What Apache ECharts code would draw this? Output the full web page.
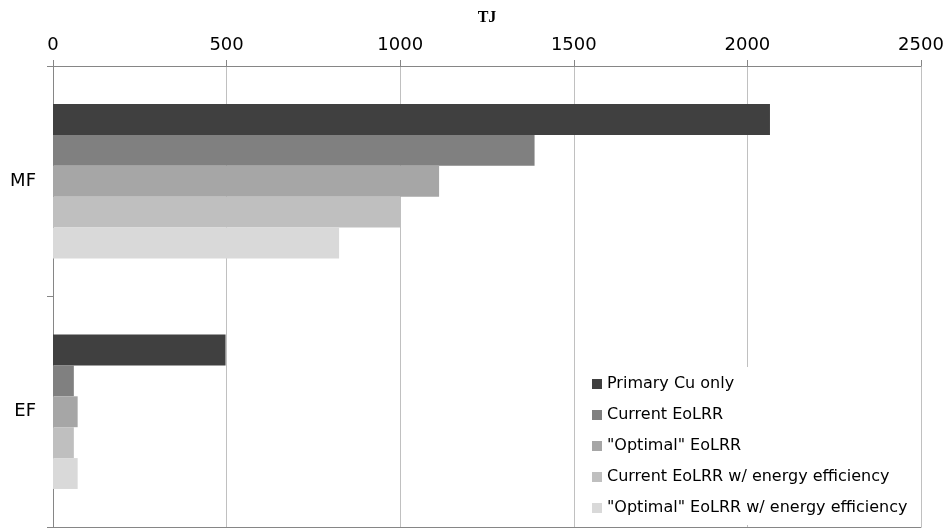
<!DOCTYPE html>
<html>
<head>
<meta charset="utf-8">
<script src="https://cdn.jsdelivr.net/npm/echarts@6/dist/echarts.min.js"></script>
<style>
html,body{margin:0;padding:0;background:#fff;}
#chart{width:947px;height:528px;}
</style>
</head>
<body>
<div id="chart"></div>
<script>
const categories = ['MF', 'EF'];
const seriesNames = ['Primary Cu only', 'Current EoLRR', '"Optimal" EoLRR', 'Current EoLRR w/ energy efficiency', '"Optimal" EoLRR w/ energy efficiency'];
const primaryCu = [2065, 497];
const currentEoLRR = [1387, 60];
const optimalEoLRR = [1112, 71];
const currentEoLRREE = [1002, 60];
const optimalEoLRREE = [824, 71];
const xTicks = [0, 500, 1000, 1500, 2000, 2500];
const seriesColors = ['#404040', '#808080', '#a6a6a6', '#bfbfbf', '#d9d9d9'];

const allValues = [primaryCu, currentEoLRR, optimalEoLRR, currentEoLRREE, optimalEoLRREE];
const chart = echarts.init(document.getElementById('chart'));
const axisGray = '#868686';
const font = 'DejaVu Sans';

chart.setOption({
  animation: false,
  backgroundColor: '#fff',
  grid: { left: 53, right: 26, top: 66, bottom: 1, containLabel: false },
  legend: {
    orient: 'vertical',
    left: 575,
    top: 367,
    backgroundColor: '#fff',
    padding: [9, 8, 9, 17],
    itemGap: 15,
    itemWidth: 10,
    itemHeight: 10,
    icon: 'rect',
    textStyle: { fontFamily: font, fontSize: 16, color: '#000', lineHeight: 16 },
    data: seriesNames
  },
  xAxis: [{
    type: 'value',
    position: 'top',
    min: xTicks[0],
    max: xTicks[xTicks.length - 1],
    interval: xTicks[1] - xTicks[0],
    name: 'TJ',
    nameLocation: 'middle',
    nameGap: 40,
    nameTextStyle: { fontFamily: 'Liberation Serif', fontWeight: 'bold', fontSize: 16, color: '#000' },
    axisLine: { show: true, lineStyle: { color: axisGray, width: 1 } },
    axisTick: { show: true, inside: false, length: 6, lineStyle: { color: axisGray } },
    axisLabel: { fontFamily: font, fontSize: 18, color: '#000', margin: 12, formatter: v => String(v) },
    splitLine: { show: true, lineStyle: { color: '#c0c0c0', width: 1 } }
  }, {
    type: 'value',
    position: 'bottom',
    min: 0,
    max: 2500,
    axisLine: { show: true, lineStyle: { color: axisGray, width: 1 } },
    axisTick: { show: false },
    axisLabel: { show: false },
    splitLine: { show: false }
  }],
  yAxis: {
    type: 'category',
    data: categories,
    inverse: true,
    axisLine: { show: true, lineStyle: { color: axisGray, width: 1 } },
    axisTick: { show: true, length: 6, lineStyle: { color: axisGray } },
    axisLabel: { fontFamily: font, fontSize: 18, color: '#000', margin: 17 },
    splitLine: { show: false }
  },
  series: seriesNames.map((name, i) => ({
    name: name,
    type: 'bar',
    xAxisIndex: 0,
    data: allValues[i],
    barGap: '0%',
    barCategoryGap: '33%',
    itemStyle: { color: seriesColors[i] }
  }))
});
</script>
</body>
</html>
